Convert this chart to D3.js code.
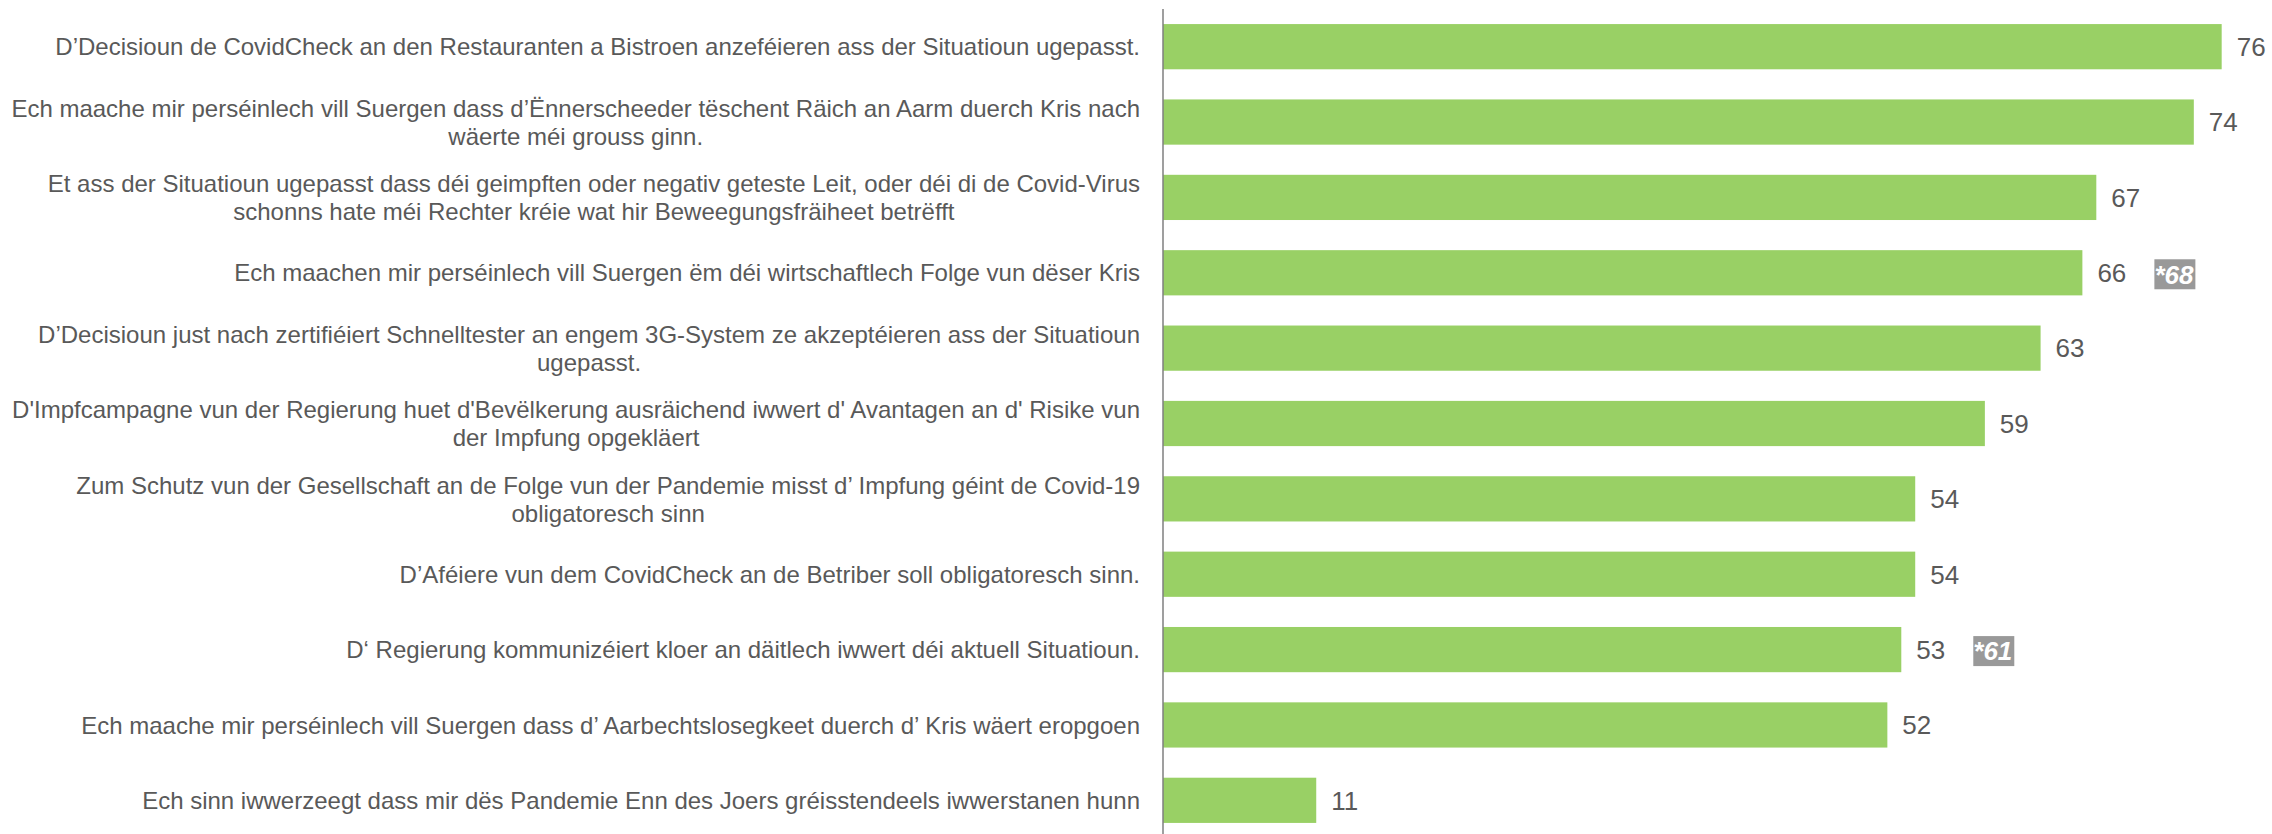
<!DOCTYPE html>
<html>
<head>
<meta charset="utf-8">
<script src="https://cdn.jsdelivr.net/npm/d3@7"></script>
<style>
  html, body { margin: 0; padding: 0; background: #fff; }
  svg text { font-family: "Liberation Sans", Arial, sans-serif; }
</style>
</head>
<body>
<svg id="chart" width="2272" height="834"></svg>
<script>
var svgWidth = 2272;
var svgHeight = 834;

// labels ("|" = line break as in the original)
var categories = [
  "D’Decisioun de CovidCheck an den Restauranten a Bistroen anzeféieren ass der Situatioun ugepasst.",
  "Ech maache mir perséinlech vill Suergen dass d’Ënnerscheeder tëschent Räich an Aarm duerch Kris nach|wäerte méi grouss ginn.",
  "Et ass der Situatioun ugepasst dass déi geimpften oder negativ geteste Leit, oder déi di de Covid-Virus|schonns hate méi Rechter kréie wat hir Beweegungsfräiheet betrëfft",
  "Ech maachen mir perséinlech vill Suergen ëm déi wirtschaftlech Folge vun dëser Kris",
  "D’Decisioun just nach zertifiéiert Schnelltester an engem 3G-System ze akzeptéieren ass der Situatioun|ugepasst.",
  "D'Impfcampagne vun der Regierung huet d'Bevëlkerung ausräichend iwwert d' Avantagen an d' Risike vun|der Impfung opgekläert",
  "Zum Schutz vun der Gesellschaft an de Folge vun der Pandemie misst d’ Impfung géint de Covid-19|obligatoresch sinn",
  "D’Aféiere vun dem CovidCheck an de Betriber soll obligatoresch sinn.",
  "D‘ Regierung kommunizéiert kloer an däitlech iwwert déi aktuell Situatioun.",
  "Ech maache mir perséinlech vill Suergen dass d’ Aarbechtslosegkeet duerch d’ Kris wäert eropgoen",
  "Ech sinn iwwerzeegt dass mir dës Pandemie Enn des Joers gréisstendeels iwwerstanen hunn"
];
var values = [76, 74, 67, 66, 63, 59, 54, 54, 53, 52, 11];
// earlier results shown in grey boxes (null = none)
var previous = [null, null, null, 68, null, null, null, null, 61, null, null];

var axisX = 1163;
var labelRight = 1140;

var svg = d3.select("#chart");

var yScale = d3.scaleBand()
    .domain(d3.range(categories.length))
    .range([9, 838])
    .paddingInner(0.4)
    .paddingOuter(0.2);

var xScale = d3.scaleLinear()
    .domain([0, 80])
    .range([axisX, axisX + 80 * 13.93]);

// bars
svg.selectAll("rect.bar")
    .data(values)
    .enter()
    .append("rect")
    .attr("class", "bar")
    .attr("x", xScale(0))
    .attr("y", function(d, i) { return yScale(i); })
    .attr("width", function(d) { return xScale(d) - xScale(0); })
    .attr("height", yScale.bandwidth())
    .attr("fill", "#99d065");

// value labels
svg.selectAll("text.barNum")
    .data(values)
    .enter()
    .append("text")
    .attr("class", "barNum")
    .attr("x", function(d) { return xScale(d) + 15; })
    .attr("y", function(d, i) { return yScale(i) + yScale.bandwidth() / 2; })
    .attr("dy", "0.36em")
    .attr("font-size", 26)
    .attr("fill", "#595959")
    .text(function(d) { return d; });

// grey boxes with previous values
var prevG = svg.selectAll("g.prev")
    .data(values.map(function(d, i) { return { v: d, p: previous[i], i: i }; })
        .filter(function(d) { return d.p !== null; }))
    .enter()
    .append("g")
    .attr("class", "prev")
    .attr("transform", function(d) {
        return "translate(" + (xScale(d.v) + 72) + "," + (yScale(d.i) + yScale.bandwidth() / 2 + 1.5) + ")";
    });

prevG.append("rect")
    .attr("x", 0)
    .attr("y", -15)
    .attr("width", 41)
    .attr("height", 30)
    .attr("fill", "#999999");

prevG.append("text")
    .attr("x", 0)
    .attr("dy", "0.36em")
    .attr("font-size", 26)
    .attr("font-weight", "bold")
    .attr("font-style", "italic")
    .attr("fill", "#ffffff")
    .text(function(d) { return "*" + d.p; });

// category labels: block right aligned, lines centred
var lineHeight = 28;
var labelG = svg.selectAll("g.barName")
    .data(categories)
    .enter()
    .append("g")
    .attr("class", "barName");

labelG.each(function(d, i) {
    var g = d3.select(this);
    var lines = d.split("|");
    var cy = yScale(i) + yScale.bandwidth() / 2;
    var texts = lines.map(function(line, k) {
        return g.append("text")
            .attr("y", cy + (k - (lines.length - 1) / 2) * lineHeight)
            .attr("dy", "0.36em")
            .attr("font-size", 24)
            .attr("fill", "#595959")
            .attr("text-anchor", "middle")
            .text(line);
    });
    var w = d3.max(texts, function(t) { return t.node().getComputedTextLength(); });
    texts.forEach(function(t) { t.attr("x", labelRight - w / 2); });
});

// vertical axis line
svg.append("line")
    .attr("x1", axisX)
    .attr("x2", axisX)
    .attr("y1", 9)
    .attr("y2", svgHeight)
    .attr("stroke", "#7f7f7f")
    .attr("stroke-width", 1.5);
</script>
</body>
</html>
